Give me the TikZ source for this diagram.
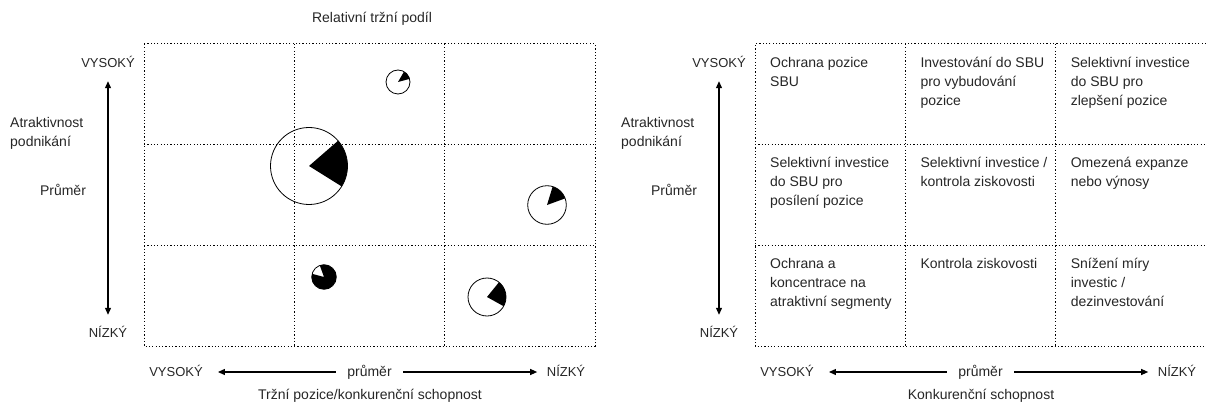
\documentclass[tikz,border=0pt]{standalone}
\usepackage{fontspec}
\setmainfont{Liberation Sans}
\usetikzlibrary{arrows.meta}

\begin{document}
\begin{tikzpicture}[x=1pt,y=-1pt,font=\fontsize{14}{19}\selectfont,text=black!85,
  grid/.style={line width=1pt,dash pattern=on 1.2pt off 2.1pt},
  axis/.style={line width=1.1pt,-{Triangle[length=7pt,width=6pt]}},
  lbl/.style={inner sep=0pt,text height=9pt,text depth=0pt},
  capslbl/.style={lbl,font=\fontsize{13}{15}\selectfont},
  cell/.style={anchor=north west,inner sep=0pt,align=left},
  pie/.style={circle,draw,line width=0.8pt,inner sep=0pt,minimum size=#1}]
  \useasboundingbox (0,0) rectangle (1206,406);
  % Left: pies in the grid
  \node[lbl] (ltitle) at (372,18) {Relativní tržní podíl};
  \draw[grid] (144,44) rectangle (595,346);
  \foreach \gx in {294.3,444.7} \draw[grid] (\gx,44) -- (\gx,346);
  \foreach \gy in {145,245} \draw[grid] (144,\gy) -- (595,\gy);
  \foreach \n/\px/\py/\r/\a/\b in {1/398/82/12/15/60, 2/309/166/38.5/-32/41, 3/547/205/19.3/20/73,
      4/324/277/12.3/165/470, 5/487/297/19/-29/51} {
    \node[pie=2*\r pt] (pie\n) at (\px,\py) {};
    \fill (pie\n.center) -- ++(\a:\r pt) arc[start angle=\a,end angle=\b,radius=\r pt] -- cycle;
  }
  \node[lbl] (lcap) at (370,395) {Tržní pozice/konkurenční schopnost};
  % Right: strategies in the grid
  \begin{scope}[xshift=611pt]
  \draw[grid] (595,44) -- (144,44) -- (144,346) -- (595,346);
  \foreach \gx in {294.3,444.7} \draw[grid] (\gx,44) -- (\gx,346);
  \foreach \gy in {145,245} \draw[grid] (144,\gy) -- (595,\gy);
  \foreach \c/\r/\t in {0/0/{Ochrana pozice\\SBU}, 1/0/{Investování do SBU\\pro vybudování\\pozice},
      2/0/{Selektivní investice\\do SBU pro\\zlepšení pozice},
      0/1/{Selektivní investice\\do SBU pro\\posílení pozice}, 1/1/{Selektivní investice /\\kontrola ziskovosti},
      2/1/{Omezená expanze\\nebo výnosy},
      0/2/{Ochrana a\\koncentrace na\\atraktivní segmenty}, 1/2/{Kontrola ziskovosti},
      2/2/{Snížení míry\\investic /\\dezinvestování}}
    \node[cell] (cell\c\r) at (159+150.3*\c,56.5+100.5*\r) {\rule{0pt}{10.5pt}\t};
  \node[lbl] (rcap) at (370,395) {Konkurenční schopnost};
  \end{scope}
  % Axes, the same on both sides
  \foreach \s in {0,611} {
  \begin{scope}[xshift=\s pt]
  \node[capslbl] (hi\s) at (108,63) {VYSOKÝ};
  \node[capslbl] (lo\s) at (108,333) {NÍZKÝ};
  \draw[axis,{Triangle[length=7pt,width=6pt]}-{Triangle[length=7pt,width=6pt]},shorten <=13.5pt,shorten >=13.5pt] (hi\s.south) -- (lo\s.north);
  \node[cell] (attr\s) at (10,116.5) {\rule{0pt}{10.5pt}Atraktivnost\\podnikání};
  \node[lbl] (mid\s) at (63,191) {Průměr};
  \node[capslbl] (xhi\s) at (176,372) {VYSOKÝ};
  \node[lbl] (xmid\s) at (369.5,372) {průměr};
  \node[capslbl] (xlo\s) at (566,372) {NÍZKÝ};
  \draw[axis,shorten <=11.5pt,shorten >=15pt] (xmid\s.west) -- (xhi\s.east);
  \draw[axis,shorten <=11.5pt,shorten >=9.5pt] (xmid\s.east) -- (xlo\s.west);
  \end{scope}
  }
\end{tikzpicture}
\end{document}
